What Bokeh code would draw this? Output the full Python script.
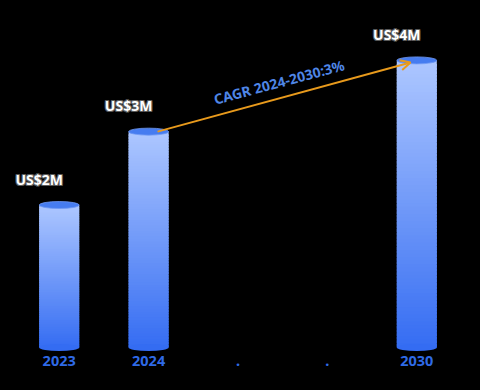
from bokeh.plotting import figure
from bokeh.models import Range1d, Arrow, OpenHead, FixedTicker, ColumnDataSource
from bokeh.core.properties import value
from bokeh.embed import file_html
from bokeh.resources import INLINE

years = ["2023", "2024", ".", ".", "2030"]
values = [2.0, 3.03, None, None, 4.03]
value_labels = ["US$2M", "US$3M", None, None, "US$4M"]
cagr_text = "CAGR 2024-2030:3%"

FONT = value("Noto Sans")
BAR_HALF = 0.224
TOP_RGB = (172, 198, 255)
BOT_RGB = (52, 108, 242)

p = figure(width=480, height=390, output_backend="svg", toolbar_location=None,
           x_range=Range1d(-0.5, 4.5), y_range=Range1d(-0.07, 4.59),
           min_border_left=14, min_border_right=19, min_border_top=20, min_border_bottom=38)
p.background_fill_color = "black"
p.border_fill_color = "black"
p.outline_line_color = None
p.grid.visible = False
p.yaxis.visible = False
p.xaxis.ticker = FixedTicker(ticks=list(range(len(years))))
p.xaxis.major_label_overrides = {i: y for i, y in enumerate(years)}
p.xaxis.axis_line_color = None
p.xaxis.major_tick_line_color = None
p.xaxis.minor_tick_line_color = None
p.xaxis.major_label_standoff = -3
p.xaxis.major_label_text_font = "Noto Sans"
p.xaxis.major_label_text_font_size = "14.5px"
p.xaxis.major_label_text_font_style = "bold"
p.xaxis.major_label_text_color = "#2f6ae6"

def mix(t):
    return "#%02x%02x%02x" % tuple(int(round(a + (b - a) * t)) for a, b in zip(TOP_RGB, BOT_RGB))

N = 80
for i, v in enumerate(values):
    if v is None:
        continue
    lefts, rights, tops, bottoms, colors = [], [], [], [], []
    for k in range(N):
        t0 = k / N
        t1 = min(1.0, (k + 1.8) / N)
        tops.append(v * (1 - t0))
        bottoms.append(v * (1 - t1))
        lefts.append(i - BAR_HALF)
        rights.append(i + BAR_HALF)
        colors.append(mix((k + 0.5) / N))
    p.quad(left=lefts[::-1], right=rights[::-1], top=tops[::-1], bottom=bottoms[::-1],
           fill_color=colors[::-1], line_color=None)
    # bottom cap
    p.ellipse(x=[i], y=[0], width=[2 * BAR_HALF], height=[7], height_units="screen",
              fill_color=mix(1.0), line_color=None)
    # top cap
    p.ellipse(x=[i], y=[v], width=[2 * BAR_HALF], height=[7], height_units="screen",
              fill_color="#467cf0", line_color="#6f98f4", line_width=0.8)

# value labels with outline
lx = [i for i, v in enumerate(values) if v is not None]
ly = [v for v in values if v is not None]
lt = [value_labels[i] for i in lx]
src = ColumnDataSource(dict(x=lx, y=ly, t=lt))
for dx, dy in [(-1, 0), (1, 0), (0, -1), (0, 1), (-1, -1), (1, 1), (-1, 1), (1, -1)]:
    p.text(x="x", y="y", text="t", source=src, x_offset=-20 + dx, y_offset=-26 + dy,
           text_align="center", text_baseline="middle", text_font=FONT,
           text_font_size="14px", text_font_style="bold", text_color="#5a5a5a")
p.text(x="x", y="y", text="t", source=src, x_offset=-20, y_offset=-26,
       text_align="center", text_baseline="middle", text_font=FONT,
       text_font_size="14px", text_font_style="bold", text_color="white")

# CAGR arrow
x0, y0 = 1 + 0.1, values[1]
x1, y1 = 4 - 0.07, values[4] - 0.03
p.add_layout(Arrow(x_start=x0, y_start=y0, x_end=x1, y_end=y1, line_color="#e89a1c", line_width=2,
                   end=OpenHead(size=10, line_color="#e89a1c", line_width=2)))
p.text(x=[(x0 + x1) / 2], y=[(y0 + y1) / 2], text=[cagr_text], x_offset=-5, y_offset=-15,
       angle=15, angle_units="deg", text_align="center", text_baseline="middle",
       text_font=FONT, text_font_size="14px", text_font_style="bold", text_color="#4f86e6")

html = file_html(p, INLINE)
html = html.replace("<head>", "<head><style>html,body{background:black;}</style>", 1)
open("out.html", "w").write(html)
